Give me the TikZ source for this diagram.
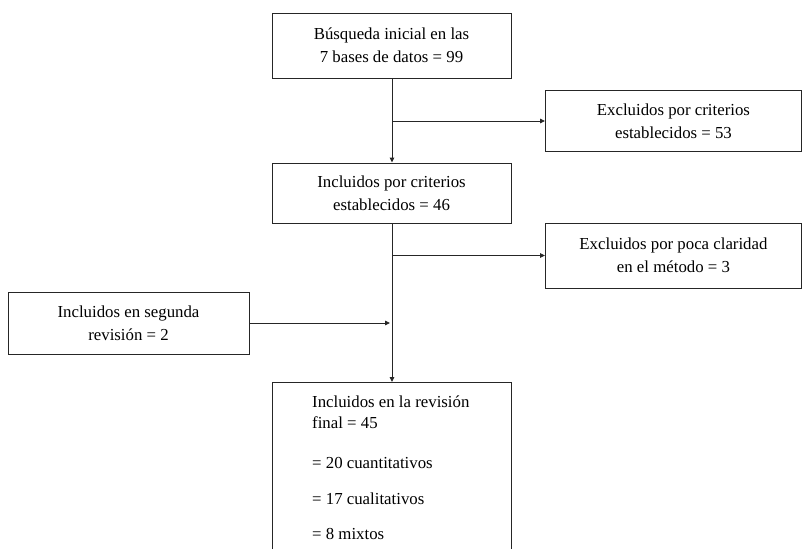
\documentclass[tikz,border=0pt]{standalone}
\usepackage{fontspec}
\setmainfont{Liberation Serif}
\usetikzlibrary{arrows.meta}
\begin{document}
\begin{tikzpicture}[x=1pt,y=-1pt,
  box/.style={draw=black!85,line width=0.9pt,inner sep=0pt,align=center,font=\fontsize{16.8}{23}\selectfont},
  ftxt/.style={anchor=west,inner sep=0pt,font=\fontsize{16.8}{21}\selectfont},
  conn/.style={draw=black!85,line width=0.9pt},
  arr/.style={conn,-{Triangle[length=5pt,width=4.5pt]}}]
\useasboundingbox (0,0) rectangle (802,549);
\node[box,minimum width=239pt,minimum height=65pt] (b1) at (391.5,45.5) {Búsqueda inicial en las\\7 bases de datos = 99};
\node[box,minimum width=239pt,minimum height=60pt] (b2) at (391.5,193) {Incluidos por criterios\\establecidos = 46};
\node[box,minimum width=256pt,minimum height=61pt,anchor=west] (e1) at (545,121) {Excluidos por criterios\\establecidos = 53};
\node[box,minimum width=256pt,minimum height=65pt,anchor=west] (e2) at (545,255.5) {Excluidos por poca claridad\\en el método = 3};
\node[box,minimum width=241pt,minimum height=62pt] (l) at (128.5,323) {Incluidos en segunda\\revisión = 2};
\coordinate (ftl) at (272,382);
\coordinate (ftr) at (511,382);
\coordinate (fbl) at (272,549);
\coordinate (fbr) at (511,549);
\draw[conn] (fbl) -- (ftl) -- (ftr) -- (fbr);
\node[ftxt] (ft) at (312,402) {Incluidos en la revisión};
\node[ftxt] (ft2) at (312,423) {final = 45};
\node[ftxt] (f1) at (312,463) {= 20 cuantitativos};
\node[ftxt] (f2) at (312,499) {= 17 cualitativos};
\node[ftxt] (f3) at (312,534) {= 8 mixtos};
\coordinate (ftop) at (392,382);
\coordinate (j1) at (392,121);
\coordinate (j2) at (392,255.5);
\coordinate (j3) at (392,323);
\draw[arr] (b1.south -| j1) -- (b2.north -| j1);
\draw[arr] (j1) -- (e1.west);
\draw[arr] (b2.south -| j2) -- (ftop);
\draw[arr] (j2) -- (e2.west);
\draw[arr] (l.east) -- ([xshift=-2pt]j3);
\end{tikzpicture}
\end{document}
